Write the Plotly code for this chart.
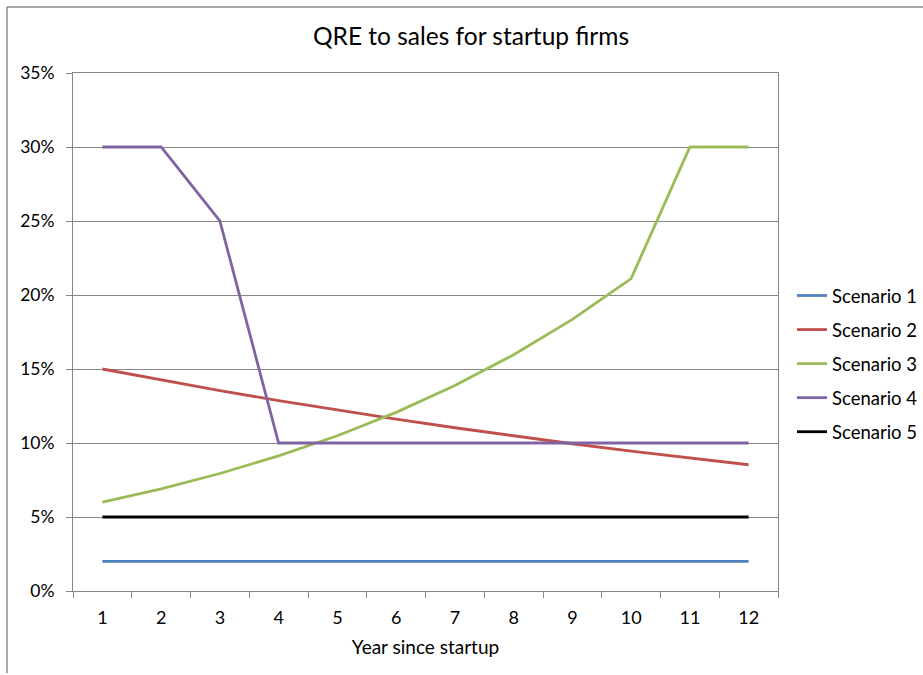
import plotly.graph_objects as go

years = [str(i) for i in range(1, 13)]
scenario_names = ["Scenario 1", "Scenario 2", "Scenario 3", "Scenario 4", "Scenario 5"]
s1 = [0.02] * 12
s2 = [0.15, 0.1425, 0.1354, 0.1286, 0.1222, 0.1161, 0.1103, 0.1048, 0.0995, 0.0945, 0.0898, 0.0853]
s3 = [0.06, 0.069, 0.0794, 0.0913, 0.1049, 0.1207, 0.1388, 0.1596, 0.1835, 0.2111, 0.30, 0.30]
s4 = [0.30, 0.30, 0.25, 0.10, 0.10, 0.10, 0.10, 0.10, 0.10, 0.10, 0.10, 0.10]
s5 = [0.05] * 12
series = [s1, s2, s3, s4, s5]
colors = ["#4F81BD", "#C0504D", "#9BBB59", "#8064A2", "#000000"]
y_ticks = [0, 0.05, 0.10, 0.15, 0.20, 0.25, 0.30, 0.35]

FONT = "Lato, Calibri, Carlito, sans-serif"

fig = go.Figure()
for i, (name, vals) in enumerate(zip(scenario_names, series)):
    fig.add_trace(go.Scatter(
        x=years, y=vals, mode="lines", name=name,
        line=dict(color=colors[i], width=2.8),
        legendgroup=f"g{i}",
    ))

# plot area pixel geometry
L, R, T, B = 73, 778, 73, 591
W, H = 923, 675

def px_x(p):
    return (p - L) / (R - L)

def px_y(p):
    return (B - p) / (B - T)

fig.update_layout(
    width=W, height=H,
    margin=dict(l=L, r=W - R, t=T, b=H - B, autoexpand=False),
    paper_bgcolor="white", plot_bgcolor="white",
    font=dict(family=FONT, size=18, color="#000000"),
    title=dict(text="QRE to sales for startup firms", x=471 / W, xanchor="center",
               y=1 - 36 / H, yanchor="middle", font=dict(size=24.5, family=FONT)),
    xaxis=dict(
        type="category", tickson="boundaries", ticks="outside", ticklen=6,
        range=[-0.5, 11.5], ticklabelstandoff=10,
        tickcolor="#868686", showline=True, linecolor="#868686", linewidth=1,
        mirror=True, showgrid=False, tickfont=dict(size=18),
        title=dict(text="Year since startup", font=dict(size=19), standoff=14),
    ),
    yaxis=dict(
        range=[0, 0.35], tickvals=y_ticks, tickformat=".0%", ticks="outside",
        ticklen=6, tickcolor="#868686", showline=True, linecolor="#868686",
        ticklabelstandoff=8,
        linewidth=1, mirror=True, showgrid=True, gridcolor="#868686", gridwidth=1,
        zeroline=False, tickfont=dict(size=17.5),
    ),
    legend=dict(
        x=px_x(792), xanchor="left", y=px_y(364), yanchor="middle",
        font=dict(size=18.5), tracegroupgap=7, itemwidth=30,
        bgcolor="rgba(0,0,0,0)",
    ),
    showlegend=True,
)

# outer chart border (left and top edges visible)
fig.add_shape(type="line", xref="paper", yref="paper",
              x0=px_x(7), x1=px_x(W + 5), y0=px_y(7), y1=px_y(7),
              line=dict(color="#8c8c8c", width=1.5))
fig.add_shape(type="line", xref="paper", yref="paper",
              x0=px_x(7), x1=px_x(7), y0=px_y(7), y1=px_y(673),
              line=dict(color="#8c8c8c", width=1.5))

fig.write_html("out.html", config={"displayModeBar": False},
               post_script="document.body.style.margin='0';document.body.style.overflow='hidden';")
